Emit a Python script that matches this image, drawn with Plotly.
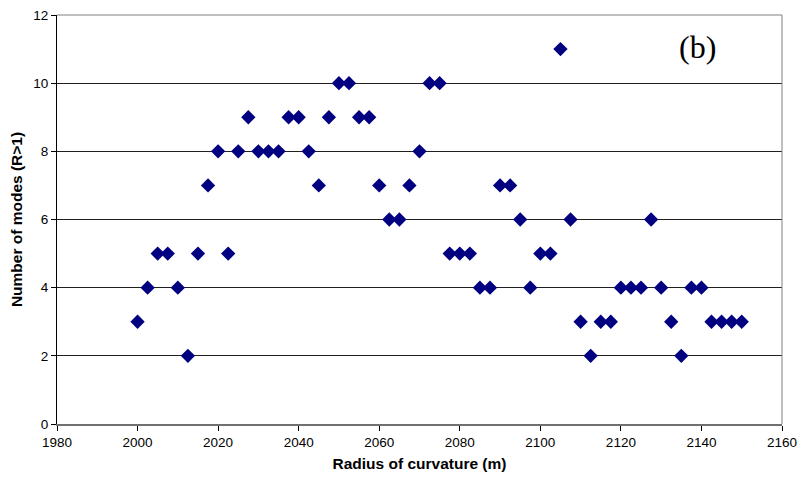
import plotly.graph_objects as go

radius = [2000 + 2.5 * i for i in range(61)]
modes = [3, 4, 5, 5, 4, 2, 5, 7, 8, 5, 8, 9, 8, 8, 8, 9, 9, 8, 7, 9,
         10, 10, 9, 9, 7, 6, 6, 7, 8, 10, 10, 5, 5, 5, 4, 4, 7, 7, 6, 4,
         5, 5, 11, 6, 3, 2, 3, 3, 4, 4, 4, 6, 4, 3, 2, 4, 4, 3, 3, 3, 3]

fig = go.Figure()
fig.add_trace(go.Scatter(
    x=radius, y=modes, mode="markers",
    marker=dict(symbol="diamond", size=11, color="#000080", line=dict(width=0)),
))

fig.update_layout(
    width=800, height=483,
    margin=dict(l=57, r=18, t=15, b=59),
    plot_bgcolor="white", paper_bgcolor="white",
    showlegend=False,
    font=dict(family="Liberation Sans, Arial", size=13.5, color="black"),
    xaxis=dict(
        range=[1980, 2160], tickvals=list(range(1980, 2161, 20)),
        ticks="outside", ticklen=5, tickcolor="black",
        showline=True, linecolor="#707070", linewidth=2, mirror=False,
        showgrid=False, zeroline=False, automargin=False,
        title=dict(text="<b>Radius of curvature (m)</b>", font=dict(size=15.5), standoff=9),
        tickfont=dict(size=13.5),
    ),
    yaxis=dict(
        range=[0, 12], tickvals=list(range(0, 13, 2)),
        ticks="outside", ticklen=5, tickcolor="black",
        showline=True, linecolor="black", linewidth=1,
        showgrid=True, gridcolor="#202020", gridwidth=1, zeroline=False, automargin=False,
        title=dict(text="<b>Number of modes (R>1)</b>", font=dict(size=15.5), standoff=6),
        tickfont=dict(size=13.5),
    ),
    shapes=[
        dict(type="line", xref="paper", yref="paper", x0=0, x1=1, y0=1, y1=1,
             line=dict(color="#808080", width=1)),
        dict(type="line", xref="paper", yref="paper", x0=1, x1=1, y0=0, y1=1,
             line=dict(color="#808080", width=1)),
    ],
    annotations=[
        dict(text="(b)", x=2138.9, y=11.06, xref="x", yref="y", showarrow=False,
             font=dict(family="Liberation Serif, Times New Roman", size=32, color="black")),
    ],
)

fig.write_html("out.html", config={"displayModeBar": False},
               post_script="document.body.style.margin='0';document.body.style.overflow='hidden';")
